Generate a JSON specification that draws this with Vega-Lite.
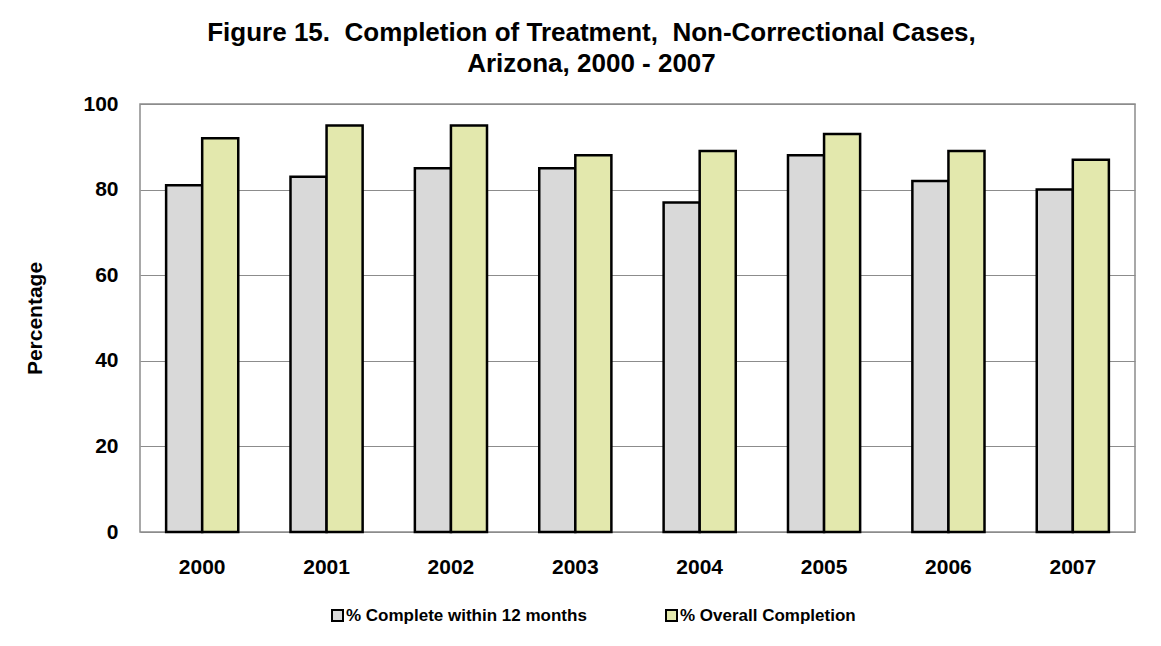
{
  "$schema": "https://vega.github.io/schema/vega-lite/v6.json",
  "width": 995,
  "height": 428,
  "autosize": {"type": "none"},
  "padding": {"left": 140, "top": 104, "right": 26, "bottom": 114},
  "background": "white",
  "title": {
    "text": ["Figure 15.\u00a0 Completion of Treatment,\u00a0 Non-Correctional Cases,", "Arizona, 2000 - 2007"],
    "anchor": "middle",
    "frame": "group",
    "dx": -46,
    "font": "Liberation Sans",
    "fontSize": 26,
    "fontWeight": "bold",
    "color": "black",
    "lineHeight": 31,
    "offset": 16
  },
  "data": {
    "values": [
      {"year": "2000", "series": "% Complete within 12 months", "value": 81},
      {"year": "2000", "series": "% Overall Completion", "value": 92},
      {"year": "2001", "series": "% Complete within 12 months", "value": 83},
      {"year": "2001", "series": "% Overall Completion", "value": 95},
      {"year": "2002", "series": "% Complete within 12 months", "value": 85},
      {"year": "2002", "series": "% Overall Completion", "value": 95},
      {"year": "2003", "series": "% Complete within 12 months", "value": 85},
      {"year": "2003", "series": "% Overall Completion", "value": 88},
      {"year": "2004", "series": "% Complete within 12 months", "value": 77},
      {"year": "2004", "series": "% Overall Completion", "value": 89},
      {"year": "2005", "series": "% Complete within 12 months", "value": 88},
      {"year": "2005", "series": "% Overall Completion", "value": 93},
      {"year": "2006", "series": "% Complete within 12 months", "value": 82},
      {"year": "2006", "series": "% Overall Completion", "value": 89},
      {"year": "2007", "series": "% Complete within 12 months", "value": 80},
      {"year": "2007", "series": "% Overall Completion", "value": 87}
    ]
  },
  "mark": {"type": "bar", "stroke": "black", "strokeWidth": 2.5},
  "encoding": {
    "x": {
      "field": "year",
      "type": "nominal",
      "scale": {"paddingInner": 0.42, "paddingOuter": 0.21},
      "axis": {
        "title": null,
        "labelAngle": 0,
        "labelFont": "Liberation Sans",
        "labelFontSize": 21,
        "labelFontWeight": "bold",
        "labelColor": "black",
        "labelPadding": 24,
        "ticks": false,
        "domain": false
      }
    },
    "xOffset": {
      "field": "series",
      "type": "nominal",
      "scale": {"paddingInner": 0, "paddingOuter": 0}
    },
    "y": {
      "field": "value",
      "type": "quantitative",
      "scale": {"domain": [0, 100]},
      "axis": {
        "title": "Percentage",
        "titleFont": "Liberation Sans",
        "titleFontSize": 21,
        "titleFontWeight": "bold",
        "titleColor": "black",
        "titlePadding": 37,
        "values": [0, 20, 40, 60, 80, 100],
        "labelFont": "Liberation Sans",
        "labelFontSize": 21,
        "labelFontWeight": "bold",
        "labelColor": "black",
        "labelPadding": 22,
        "ticks": false,
        "domain": false,
        "grid": true,
        "gridColor": "#8c8c8c",
        "gridWidth": 1
      }
    },
    "color": {
      "field": "series",
      "type": "nominal",
      "scale": {
        "domain": ["% Complete within 12 months", "% Overall Completion"],
        "range": ["#D9D9D9", "#E3E8AD"]
      },
      "legend": {
        "title": null,
        "orient": "none",
        "direction": "horizontal",
        "legendX": 189,
        "legendY": 503,
        "padding": 0,
        "symbolType": "square",
        "symbolSize": 121,
        "symbolStrokeColor": "black",
        "symbolStrokeWidth": 2,
        "labelFont": "Liberation Sans",
        "labelFontSize": 17,
        "labelFontWeight": "bold",
        "labelColor": "black",
        "labelOffset": 0,
        "labelLimit": 0,
        "columnPadding": 75
      }
    }
  },
  "config": {
    "view": {"stroke": "#8c8c8c", "strokeWidth": 1.5}
  }
}
